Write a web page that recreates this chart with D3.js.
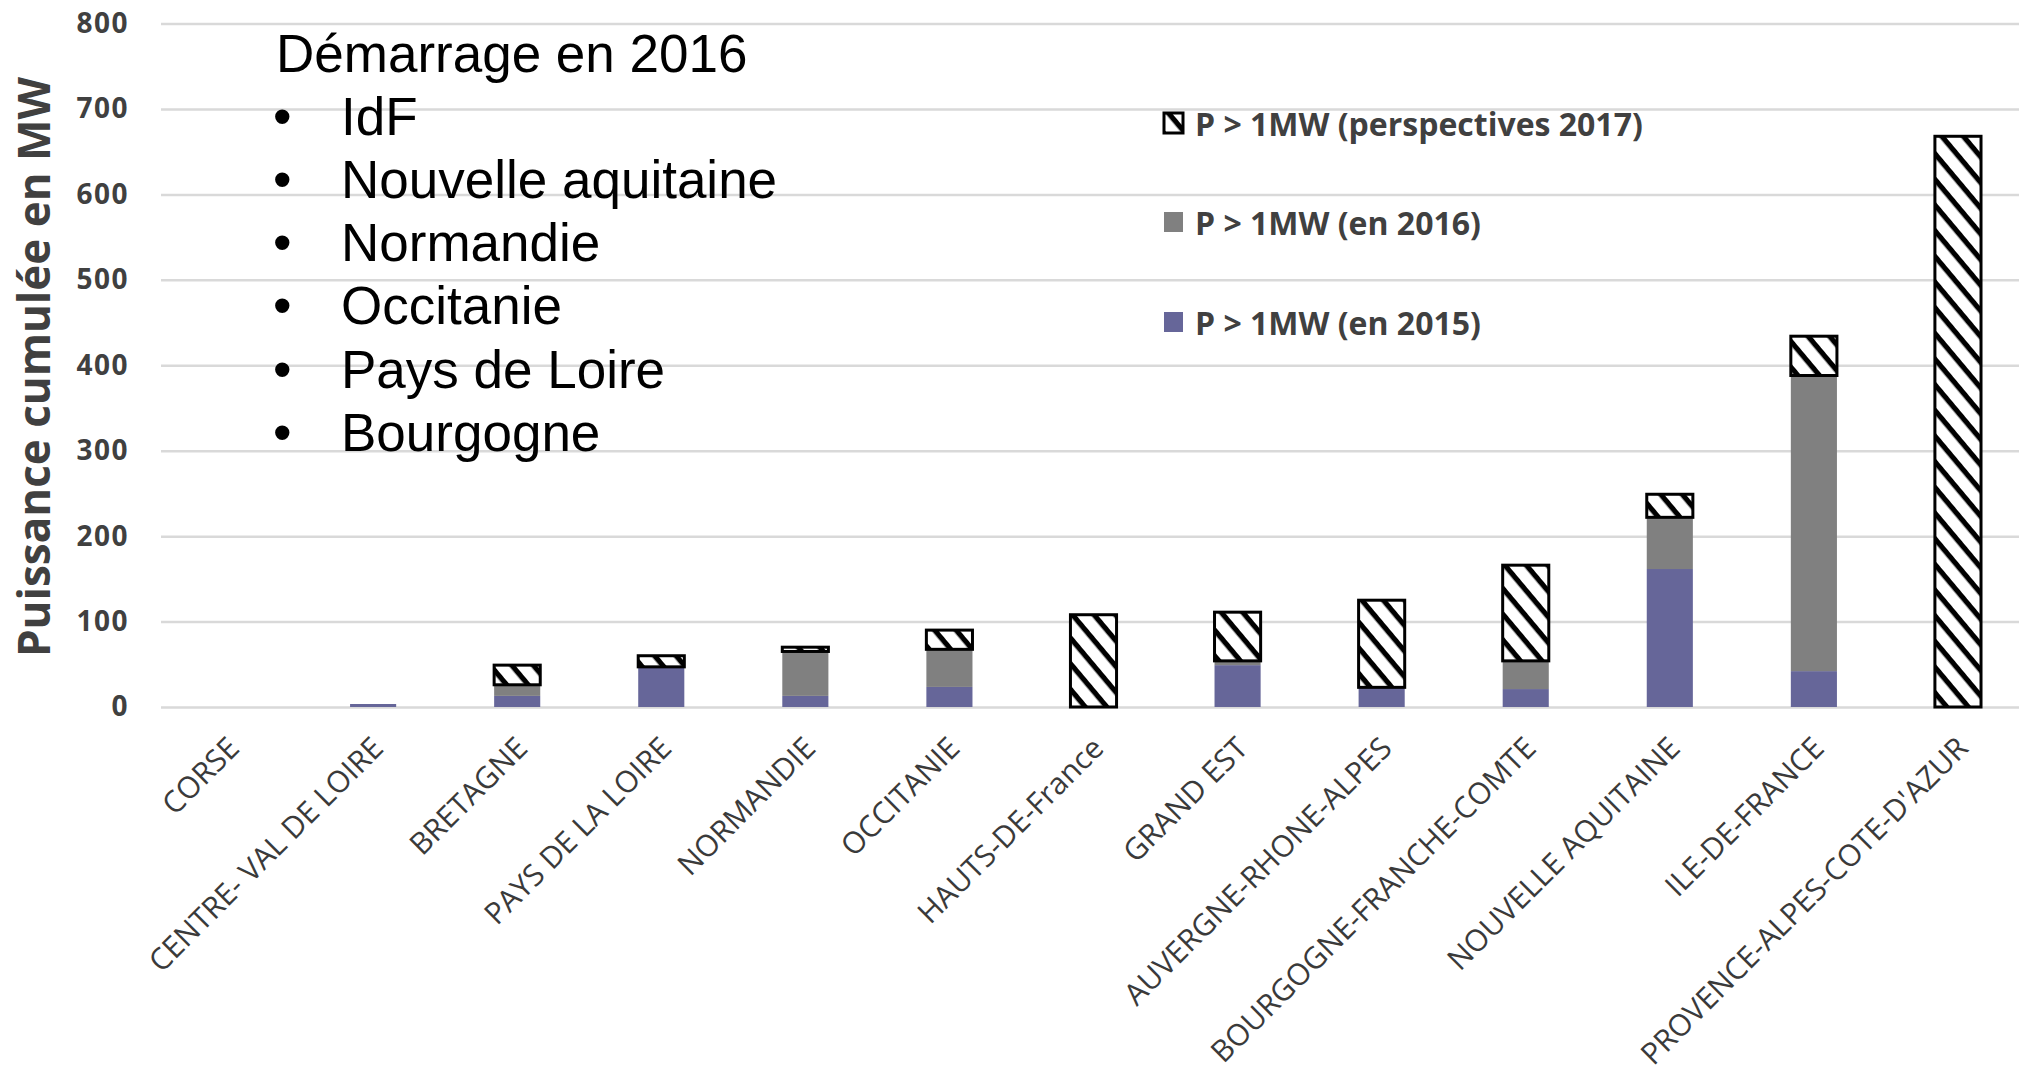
<!DOCTYPE html>
<html>
<head>
<meta charset="utf-8">
<script src="https://cdn.jsdelivr.net/npm/d3@7"></script>
<style>
  html, body { margin: 0; padding: 0; background: #fff; }
  svg { display: block; }
</style>
</head>
<body>
<svg id="chart" width="2019" height="1079"></svg>
<script>
// ---- Data ----
const categories = [
  "CORSE", "CENTRE- VAL DE LOIRE", "BRETAGNE", "PAYS DE LA LOIRE", "NORMANDIE",
  "OCCITANIE", "HAUTS-DE-France", "GRAND EST", "AUVERGNE-RHONE-ALPES",
  "BOURGOGNE-FRANCHE-COMTE", "NOUVELLE AQUITAINE", "ILE-DE-FRANCE",
  "PROVENCE-ALPES-COTE-D'AZUR"
];
const p2015 = [0, 3.5, 13, 47, 13, 23.5, 0, 49, 23, 21, 161.5, 42, 0];
const p2016 = [0, 0, 13, 0, 52, 44, 0, 5, 0, 33, 60.5, 346, 0];
const persp2017 = [0, 0, 23, 13, 5, 22.5, 108, 57, 102, 112, 27, 46, 668];
const yTicks = [0, 100, 200, 300, 400, 500, 600, 700, 800];
const seriesNames = ["P > 1MW (perspectives 2017)", "P > 1MW (en 2016)", "P > 1MW (en 2015)"];
const yTitle = "Puissance cumulée en MW";
const noteTitle = "Démarrage en 2016";
const noteItems = ["IdF", "Nouvelle aquitaine", "Normandie", "Occitanie", "Pays de Loire", "Bourgogne"];

// ---- Setup ----
const svg = d3.select("#chart");
const W = 2019;
const colors = { s2015: "#666699", s2016: "#808080" };
const textColor = "#404040";

const defs = svg.append("defs");
const pat = defs.append("pattern")
  .attr("id", "hatch")
  .attr("patternUnits", "userSpaceOnUse")
  .attr("width", 16.5).attr("height", 16.5)
  .attr("patternTransform", "rotate(50)");
pat.append("rect").attr("width", 16.5).attr("height", 16.5).attr("fill", "#fff");
pat.append("rect").attr("x", 0).attr("y", 0).attr("width", 16.5).attr("height", 5.2).attr("fill", "#000");

const x = d3.scaleBand().domain(categories).range([157, 2030]).paddingInner(0.68).paddingOuter(0.34);
const y = d3.scaleLinear().domain([0, 800]).range([707, 23.5]);

// gridlines + y tick labels
const gridLeft = 161;
const yAxis = d3.axisLeft(y).tickValues(yTicks).tickSizeInner(-(W - gridLeft)).tickSizeOuter(0).tickPadding(32);
const gy = svg.append("g").attr("transform", `translate(${gridLeft},0)`).call(yAxis);
gy.select(".domain").remove();
gy.selectAll(".tick line").attr("stroke", "#d9d9d9").attr("stroke-width", 2.5);
gy.selectAll(".tick text")
  .attr("fill", textColor)
  .style("font-family", "'Open Sans', sans-serif")
  .style("font-weight", "700")
  .style("font-size", "28px")
  .style("letter-spacing", "1.5px");

// bars
const data = categories.map((c, i) => ({ c, a: p2015[i], b: p2016[i], h: persp2017[i] }));
const bw = x.bandwidth();
const bars = svg.append("g");
data.forEach(d => {
  const x0 = x(d.c);
  if (d.a > 0) bars.append("rect").attr("x", x0).attr("width", bw)
    .attr("y", y(d.a)).attr("height", y(0) - y(d.a)).attr("fill", colors.s2015);
  if (d.b > 0) bars.append("rect").attr("x", x0).attr("width", bw)
    .attr("y", y(d.a + d.b)).attr("height", y(d.a) - y(d.a + d.b)).attr("fill", colors.s2016);
  if (d.h > 0) bars.append("rect").attr("x", x0).attr("width", bw)
    .attr("y", y(d.a + d.b + d.h)).attr("height", y(d.a + d.b) - y(d.a + d.b + d.h))
    .attr("fill", "url(#hatch)").attr("stroke", "#000").attr("stroke-width", 3);
});

// x axis labels
const xAxis = d3.axisBottom(x).tickSize(0).tickPadding(0);
const gx = svg.append("g").attr("transform", "translate(0,707)").call(xAxis);
gx.select(".domain").remove();
gx.selectAll(".tick text")
  .attr("text-anchor", "end")
  .attr("transform", "translate(12,43) rotate(-45)")
  .attr("dy", 0)
  .attr("y", 0)
  .attr("fill", "#3a3a3a")
  .style("font-family", "'Open Sans', sans-serif")
  .style("font-size", "30px");

// y title
svg.append("text")
  .attr("transform", "translate(50,367) rotate(-90)")
  .attr("text-anchor", "middle")
  .attr("fill", textColor)
  .style("font-family", "'Open Sans', sans-serif")
  .style("font-weight", "700")
  .style("font-size", "44px")
  .text(yTitle);

// legend
const legendY = [124, 223, 323];
const legendFill = ["url(#hatch)", colors.s2016, colors.s2015];
const lg = svg.append("g");
seriesNames.forEach((s, i) => {
  const r = lg.append("rect").attr("x", 1164).attr("y", legendY[i] - 11).attr("width", 19).attr("height", 20)
    .attr("fill", legendFill[i]);
  if (i === 0) r.attr("stroke", "#000").attr("stroke-width", 3);
  lg.append("text").attr("x", 1195).attr("y", legendY[i]).attr("dy", "0.36em")
    .attr("fill", textColor)
    .style("font-family", "'Open Sans', sans-serif")
    .style("font-weight", "700")
    .style("font-size", "32px")
    .text(s);
});

// annotation
const note = svg.append("g").style("font-family", "'Liberation Sans', Arial, sans-serif").style("font-size", "53px").attr("fill", "#000");
note.append("text").attr("x", 276).attr("y", 72).text(noteTitle);
noteItems.forEach((t, i) => {
  const by = 72 + (i + 1) * 63.1;
  note.append("text").attr("x", 273).attr("y", by).text("•");
  note.append("text").attr("x", 341).attr("y", by).text(t);
});
</script>
</body>
</html>
